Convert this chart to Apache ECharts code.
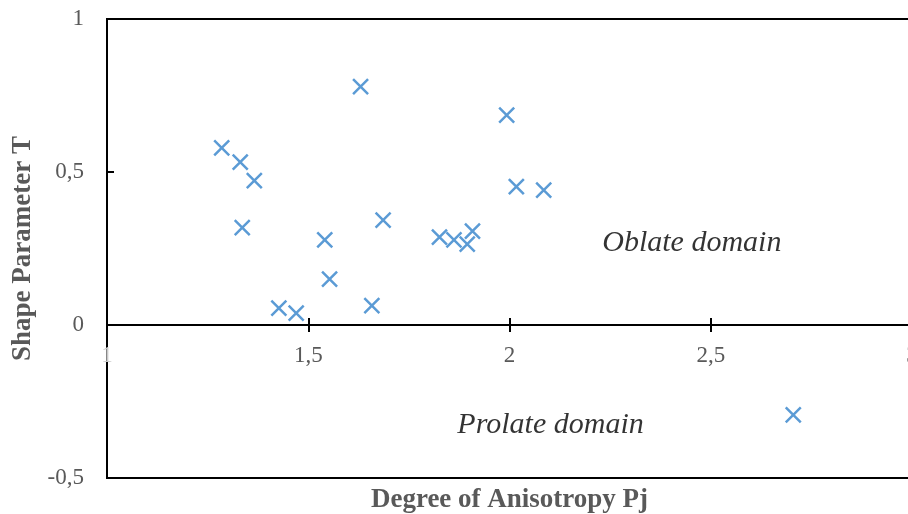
<!DOCTYPE html>
<html>
<head>
<meta charset="utf-8">
<script src="https://cdn.jsdelivr.net/npm/echarts@6/dist/echarts.min.js"></script>
<style>html,body{margin:0;padding:0;background:#fff}#c{width:908px;height:514px}</style>
</head>
<body>
<div id="c"></div>
<script>
// Data
var pjValues = [1.285, 1.331, 1.366, 1.336, 1.427, 1.470, 1.541, 1.553, 1.630, 1.658, 1.686, 1.826, 1.862, 1.895, 1.908, 1.993, 2.017, 2.085, 2.705];
var tValues  = [0.579, 0.532, 0.472, 0.318, 0.055, 0.039, 0.278, 0.150, 0.779, 0.063, 0.343, 0.287, 0.278, 0.264, 0.307, 0.686, 0.452, 0.441, -0.294];
var xTicks = [1, 1.5, 2, 2.5, 3];
var yTicks = [-0.5, 0, 0.5, 1];
var noteText = ['Oblate domain', 'Prolate domain'];
var noteX = [2.453, 2.102];
var noteY = [0.268, -0.327];
var xTitle = 'Degree of Anisotropy Pj';
var yTitle = 'Shape Parameter T';

var points = pjValues.map(function (x, i) { return [x, tValues[i]]; });
var notes = noteText.map(function (t, i) { return [noteX[i], noteY[i], t]; });
function fmt(v) { return String(v).replace('.', ','); }

var chart = echarts.init(document.getElementById('c'), null, { renderer: 'canvas' });
var serif = '"Liberation Serif", "Times New Roman", serif';
var xMin = xTicks[0], xMax = xTicks[xTicks.length - 1];
var yMin = yTicks[0], yMax = yTicks[yTicks.length - 1];
// plot box: 19..478 px for yMin..yMax; upper helper grid covers 0..yMax so its bottom axis sits on T = 0
var plotTop = 19, plotH = 459;
var upperH = plotH * (yMax - 0) / (yMax - yMin);
chart.setOption({
  animation: false,
  backgroundColor: '#ffffff',
  grid: [
    { left: 107, top: plotTop, width: 805, height: plotH, containLabel: false, outerBoundsMode: 'none',
      show: true, borderColor: '#000', borderWidth: 2, backgroundColor: 'transparent' },
    { left: 107, top: plotTop, width: 805, height: upperH, containLabel: false, outerBoundsMode: 'none', show: false }
  ],
  xAxis: [{
    gridIndex: 0, type: 'value', min: xMin, max: xMax, interval: 0.5,
    axisLine: { show: true, onZero: true, lineStyle: { color: '#000', width: 2 } },
    axisTick: { show: true, inside: false, length: 7, lineStyle: { color: '#000', width: 2 } },
    axisLabel: { show: false }, splitLine: { show: false }
  }, {
    gridIndex: 1, type: 'value', position: 'bottom', min: xMin, max: xMax, interval: 0.5,
    axisLine: { show: true, onZero: false, lineStyle: { color: '#000', width: 2 } },
    axisTick: { show: true, inside: true, length: 7, lineStyle: { color: '#000', width: 2 } },
    splitLine: { show: false },
    axisLabel: {
      margin: 19, fontFamily: serif, fontSize: 23, color: '#595959',
      formatter: function (v) { return v === xMin ? '{f|' + fmt(v) + '}' : fmt(v); },
      rich: { f: { color: '#c8c8c8', fontFamily: serif, fontSize: 23 } }
    },
    name: xTitle, nameLocation: 'middle', nameGap: 162,
    nameTextStyle: { fontFamily: serif, fontSize: 27, fontWeight: 'bold', color: '#595959' }
  }],
  yAxis: [{
    gridIndex: 0, type: 'value', min: yMin, max: yMax, interval: 0.5,
    axisLine: { show: true, onZero: false, lineStyle: { color: '#000', width: 2 } },
    axisTick: { show: true, inside: true, length: 7, lineStyle: { color: '#000', width: 2 } },
    splitLine: { show: false },
    axisLabel: { margin: 23, fontFamily: serif, fontSize: 23, color: '#595959', formatter: fmt },
    name: yTitle, nameLocation: 'middle', nameGap: 68,
    nameTextStyle: { fontFamily: serif, fontSize: 27, fontWeight: 'bold', color: '#595959' }
  }, {
    gridIndex: 1, type: 'value', min: 0, max: yMax, show: false
  }],
  series: [{
    type: 'scatter', xAxisIndex: 0, yAxisIndex: 0, data: points,
    symbol: 'path://M0,0L10,10M10,0L0,10', symbolSize: 15,
    itemStyle: { color: 'transparent', borderColor: '#5B9BD5', borderWidth: 2.5, opacity: 1 }
  }, {
    type: 'scatter', xAxisIndex: 0, yAxisIndex: 0, data: notes, symbolSize: 0, silent: true,
    label: {
      show: true, position: 'inside', formatter: function (p) { return p.value[2]; },
      fontFamily: serif, fontStyle: 'italic', fontSize: 30, color: '#000'
    }
  }]
});
</script>
</body>
</html>
